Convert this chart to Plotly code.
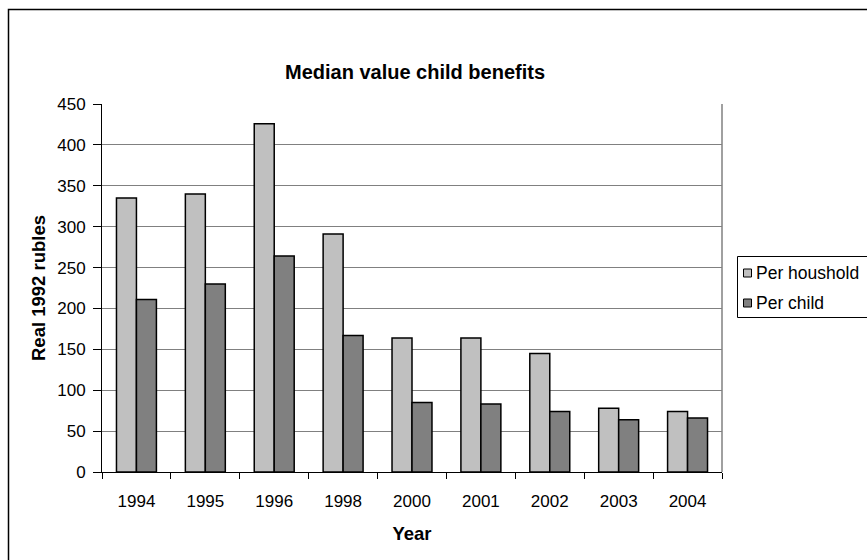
import plotly.graph_objects as go

years = ["1994", "1995", "1996", "1998", "2000", "2001", "2002", "2003", "2004"]
per_household = [335, 340, 426, 291, 164, 164, 145, 78, 74]
per_child = [211, 230, 264, 167, 85, 83, 74, 64, 66]
y_ticks = [0, 50, 100, 150, 200, 250, 300, 350, 400, 450]

series_names = ["Per houshold", "Per child"]
series_colors = ["#C0C0C0", "#808080"]

W, H = 867, 560
L, R, T, B = 102, 145, 104, 88
pw = W - L - R
ph = H - T - B

def px_x(x):
    return (x - L) / pw

def px_y(y):
    return (H - B - y) / ph

font = "Liberation Sans, Arial, sans-serif"

fig = go.Figure()
for name, vals, col in zip(series_names, [per_household, per_child], series_colors):
    fig.add_trace(go.Bar(x=years, y=vals, name=name,
                         marker=dict(color=col, line=dict(color="#000000", width=1.5))))

# hand-drawn legend box on the right
shapes = [
    dict(type="line", xref="paper", yref="paper", x0=1, x1=1, y0=0, y1=1,
         line=dict(color="#808080", width=1.5)),
    dict(type="rect", xref="paper", yref="paper",
         x0=px_x(8.5), x1=px_x(875), y0=px_y(575), y1=px_y(9.5),
         line=dict(color="#000000", width=1.5), layer="below"),
    dict(type="rect", xref="paper", yref="paper",
         x0=px_x(737.5), x1=px_x(880), y0=px_y(317.5), y1=px_y(256.5),
         line=dict(color="#000000", width=1), fillcolor="white"),
]
annotations = []
legend_rows = [273, 303]
for name, col, cy in zip(series_names, series_colors, legend_rows):
    shapes.append(dict(type="rect", xref="paper", yref="paper",
                       x0=px_x(743.5), x1=px_x(751.5), y0=px_y(cy + 4), y1=px_y(cy - 4),
                       line=dict(color="#000000", width=1), fillcolor=col))
    annotations.append(dict(text=name, xref="paper", yref="paper", x=px_x(754), y=px_y(cy),
                            xanchor="left", yanchor="middle", showarrow=False,
                            font=dict(size=17.5, family=font, color="#000000")))

fig.update_layout(
    width=W, height=H,
    margin=dict(l=L, r=R, t=T, b=B),
    paper_bgcolor="white", plot_bgcolor="white",
    font=dict(family=font, size=17, color="#000000"),
    barmode="group", bargap=0.42, bargroupgap=0,
    title=dict(text="<b>Median value child benefits</b>", x=px_x(415), xref="paper",
               xanchor="center", y=1 - 72 / H, yanchor="middle",
               font=dict(size=20, family=font)),
    showlegend=False,
    xaxis=dict(showline=True, linecolor="#000000", linewidth=1,
               ticks="outside", tickson="boundaries", ticklen=6, tickcolor="#000000",
               ticklabelstandoff=14,
               title=dict(text="<b>Year</b>", font=dict(size=18.5, family=font), standoff=16),
               tickfont=dict(size=17)),
    yaxis=dict(range=[0, 450], tickvals=y_ticks, showline=True, linecolor="#000000",
               linewidth=1, ticks="outside", ticklen=8, tickcolor="#000000",
               ticklabelstandoff=4,
               showgrid=True, gridcolor="#808080", gridwidth=1, zeroline=False,
               title=dict(text="<b>Real 1992 rubles</b>", font=dict(size=18.5, family=font),
                          standoff=6),
               tickfont=dict(size=17)),
    shapes=shapes,
    annotations=annotations,
)

fig.write_html("out.html")
